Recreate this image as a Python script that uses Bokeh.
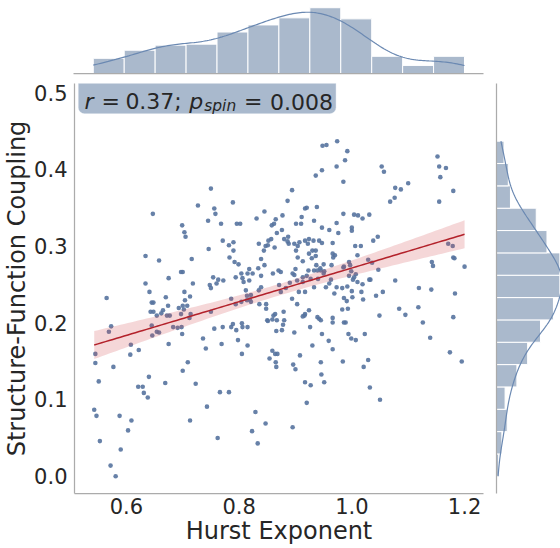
import numpy as np
from bokeh.plotting import figure
from bokeh.layouts import column, row
from bokeh.models import Range1d, FixedTicker, BoxAnnotation, Label, LinearAxis
from bokeh.embed import file_html
from bokeh.resources import INLINE

# ------------------------------------------------------------------ data
# scatter points (Hurst exponent, structure-function coupling)
hurst_a = [0.565, 0.545, 0.545, 0.551, 0.543, 0.547, 0.553, 0.572, 0.581, 0.569,
           0.573, 0.577, 0.588, 0.590, 0.603, 0.609, 0.608, 0.607, 0.622, 0.621,
           0.629, 0.631, 0.638, 0.640, 0.634, 0.634, 0.647, 0.641, 0.645, 0.648,
           0.643, 0.648, 0.645, 0.646, 0.654, 0.654, 0.658, 0.658, 0.665, 0.670,
           0.672, 0.675, 0.675, 0.669, 0.677, 0.683, 0.691, 0.693, 0.697, 0.700,
           0.699, 0.703, 0.705, 0.703, 0.704, 0.700, 0.697, 0.698, 0.699, 0.702,
           0.712, 0.714, 0.709, 0.700, 0.713, 0.716, 0.718, 0.723, 0.727, 0.736,
           0.741, 0.743, 0.746, 0.745, 0.748, 0.750, 0.750, 0.750, 0.754, 0.756,
           0.758, 0.756, 0.762, 0.766, 0.768, 0.771, 0.769, 0.771, 0.772, 0.760,
           0.763, 0.708, 0.713, 0.662, 0.674]
sfc_a = [0.232, 0.159, 0.147, 0.123, 0.086, 0.078, 0.045, 0.013, -0.001, 0.188,
         0.195, 0.142, 0.078, 0.034, 0.059, 0.072, 0.171, 0.158, 0.164, 0.116,
         0.116, 0.108, 0.102, 0.129, 0.251, 0.287, 0.342, 0.240, 0.226, 0.226,
         0.214, 0.214, 0.196, 0.183, 0.209, 0.188, 0.281, 0.187, 0.216, 0.233,
         0.209, 0.258, 0.172, 0.121, 0.209, 0.194, 0.193, 0.219, 0.266, 0.266,
         0.327, 0.318, 0.312, 0.240, 0.229, 0.222, 0.211, 0.194, 0.185, 0.217,
         0.206, 0.211, 0.148, 0.137, 0.072, 0.283, 0.251, 0.120, 0.353, 0.179,
         0.166, 0.090, 0.296, 0.333, 0.249, 0.245, 0.214, 0.375, 0.259, 0.349,
         0.342, 0.192, 0.049, 0.109, 0.329, 0.307, 0.172, 0.194, 0.255, 0.251,
         0.256, 0.222, 0.234, 0.212, 0.222]

hurst_b = [0.782, 0.782, 0.783, 0.786, 0.786, 0.789, 0.790, 0.790, 0.792, 0.794,
           0.794, 0.795, 0.796, 0.798, 0.799, 0.802, 0.804, 0.805, 0.804, 0.806,
           0.808, 0.806, 0.812, 0.814, 0.815, 0.815, 0.815, 0.818, 0.818, 0.819,
           0.821, 0.824, 0.823, 0.829, 0.831, 0.833, 0.835, 0.835, 0.836, 0.839,
           0.844, 0.845, 0.845, 0.847, 0.848, 0.848, 0.850, 0.851, 0.852, 0.854,
           0.857, 0.858, 0.860, 0.861, 0.859, 0.862, 0.864, 0.865, 0.865, 0.867,
           0.867, 0.868, 0.870, 0.871, 0.874, 0.876, 0.876, 0.877, 0.878, 0.879,
           0.880, 0.883, 0.886, 0.887, 0.888, 0.890, 0.894, 0.894, 0.895, 0.896,
           0.898, 0.898, 0.900, 0.900, 0.901, 0.901, 0.903, 0.903, 0.906, 0.907,
           0.908, 0.910, 0.911, 0.913, 0.913, 0.916, 0.917, 0.917, 0.917, 0.920,
           0.920, 0.920, 0.922, 0.923, 0.924, 0.924, 0.926, 0.927, 0.927, 0.930,
           0.930, 0.932, 0.933, 0.933, 0.933, 0.936, 0.936, 0.937, 0.938, 0.939,
           0.939, 0.940, 0.942, 0.942, 0.944]
sfc_b = [0.109, 0.301, 0.285, 0.231, 0.194, 0.357, 0.305, 0.294, 0.279, 0.259,
         0.224, 0.190, 0.329, 0.177, 0.276, 0.329, 0.227, 0.159, 0.264, 0.258,
         0.253, 0.194, 0.242, 0.229, 0.264, 0.194, 0.170, 0.270, 0.255, 0.230,
         0.227, 0.264, 0.058, 0.083, 0.336, 0.042, 0.303, 0.242, 0.224, 0.246,
         0.294, 0.345, 0.275, 0.068, 0.224, 0.218, 0.203, 0.301, 0.307, 0.153,
         0.309, 0.327, 0.264, 0.209, 0.163, 0.329, 0.159, 0.335, 0.148, 0.317,
         0.203, 0.159, 0.268, 0.249, 0.240, 0.321, 0.190, 0.340, 0.197, 0.214,
         0.309, 0.245, 0.359, 0.312, 0.303, 0.252, 0.373, 0.231, 0.063, 0.145,
         0.262, 0.303, 0.270, 0.139, 0.329, 0.294, 0.255, 0.224, 0.240, 0.305,
         0.157, 0.329, 0.338, 0.280, 0.259, 0.209, 0.349, 0.307, 0.122, 0.350,
         0.261, 0.095, 0.303, 0.268, 0.309, 0.216, 0.194, 0.257, 0.118, 0.294,
         0.170, 0.307, 0.333, 0.268, 0.246, 0.294, 0.392, 0.275, 0.351, 0.268,
         0.207, 0.257, 0.307, 0.205, 0.271]

hurst_c = [0.789, 0.805, 0.851, 0.859, 0.866, 0.864, 0.866, 0.847, 0.863, 0.839,
           0.834, 0.839, 0.821, 0.814, 0.874, 0.886, 0.904, 0.904, 0.895, 0.924,
           0.929, 0.936, 0.913, 0.917, 0.917, 0.913, 0.880, 0.898]
sfc_c = [0.198, 0.199, 0.202, 0.204, 0.189, 0.211, 0.142, 0.300, 0.298, 0.283,
         0.271, 0.261, 0.236, 0.235, 0.266, 0.306, 0.300, 0.285, 0.264, 0.290,
         0.284, 0.287, 0.253, 0.240, 0.211, 0.208, 0.203, 0.187]

hurst_d = [0.948, 0.955, 0.974, 0.992, 0.988, 0.973, 0.947, 0.985, 1.053, 1.057,
           1.100, 1.077, 1.087, 1.076, 1.068, 0.985, 1.004, 1.011, 1.019, 1.031,
           0.973, 0.947, 0.960, 0.976, 1.000, 1.000, 1.046, 1.038]
sfc_d = [0.431, 0.432, 0.437, 0.424, 0.412, 0.404, 0.399, 0.384, 0.404, 0.397,
         0.382, 0.376, 0.374, 0.363, 0.358, 0.342, 0.341, 0.340, 0.336, 0.341,
         0.330, 0.324, 0.321, 0.317, 0.324, 0.320, 0.312, 0.307]

hurst_e = [0.947, 0.966, 1.006, 1.016, 1.010, 0.966, 0.970, 0.967, 0.950, 0.964,
           0.945, 0.951, 0.950, 0.995, 0.997, 0.986, 0.985, 1.029, 1.036, 0.999,
           0.995, 1.007, 1.004, 1.047, 0.963, 1.002, 1.010, 1.019, 1.031, 1.033,
           0.992, 0.983, 0.973, 0.960, 0.954, 1.000, 1.017, 0.969, 1.055, 1.043,
           1.077, 0.986, 1.001, 1.020, 0.991, 0.993, 0.983, 1.049, 0.966, 0.966,
           0.986, 0.989, 1.119, 1.118, 1.095, 1.084, 0.945, 0.947, 0.994, 1.023,
           0.999, 1.007, 0.959, 0.966]
sfc_e = [0.304, 0.304, 0.300, 0.300, 0.288, 0.290, 0.288, 0.285, 0.276, 0.275,
         0.268, 0.267, 0.264, 0.279, 0.275, 0.273, 0.272, 0.282, 0.278, 0.267,
         0.261, 0.263, 0.259, 0.269, 0.256, 0.256, 0.253, 0.250, 0.256, 0.256,
         0.247, 0.245, 0.246, 0.251, 0.246, 0.241, 0.240, 0.238, 0.240, 0.235,
         0.255, 0.232, 0.233, 0.230, 0.228, 0.218, 0.217, 0.209, 0.206, 0.200,
         0.200, 0.200, 0.245, 0.220, 0.210, 0.218, 0.203, 0.185, 0.185, 0.185,
         0.179, 0.177, 0.176, 0.165]

hurst_f = [0.945, 0.946, 0.951, 0.984, 1.029, 1.021, 1.032, 1.050, 1.152, 1.155,
           1.167, 1.157, 1.180, 1.155, 1.142, 1.144, 1.141, 1.171, 1.179, 1.180,
           1.182, 1.200, 1.183, 1.180, 1.126, 1.139, 1.174, 1.195]
sfc_f = [0.148, 0.132, 0.122, 0.149, 0.151, 0.142, 0.115, 0.099, 0.417, 0.404,
         0.402, 0.390, 0.372, 0.358, 0.279, 0.274, 0.243, 0.303, 0.300, 0.285,
         0.284, 0.273, 0.238, 0.207, 0.200, 0.180, 0.161, 0.149]

# marginal histogram counts
top_counts = [15, 23, 28, 29, 41, 48, 55, 65, 54, 17, 8, 17]          # along Hurst exponent
right_counts = [2, 5, 10, 8, 19, 29, 41, 53, 59, 59, 47, 37, 13, 11, 7]  # along coupling (low -> high)

x_ticks = [0.6, 0.8, 1.0, 1.2]
x_tick_labels = ["0.6", "0.8", "1.0", "1.2"]
y_ticks = [0.0, 0.1, 0.2, 0.3, 0.4, 0.5]
y_tick_labels = ["0.0", "0.1", "0.2", "0.3", "0.4", "0.5"]
x_label = "Hurst Exponent"
y_label = "Structure-Function Coupling"
r_value = "0.37;"
p_value = "0.008"

# ------------------------------------------------------------------ style
FONT = "DejaVu Sans"
TXT = "#262626"
SPINE = "#ababab"
DOT = "#56739f"
BAR = "#aab9cc"
KDE = "#6b89b2"
REG = "#b3222b"
BAND = "#d0474d"
BOX = "#a9b9cd"

hurst = np.array(hurst_a + hurst_b + hurst_c + hurst_d + hurst_e + hurst_f)
sfc = np.array(sfc_a + sfc_b + sfc_c + sfc_d + sfc_e + sfc_f)

X_START, X_END = 0.508, 1.2336
Y_START, Y_END = -0.0235, 0.5124
FL, FR, FT, FB = 73, 483, 83, 493  # frame in pixels


def px_x(px):
    return X_START + (px - FL) / (FR - FL) * (X_END - X_START)


def px_y(py):
    return Y_END - (py - FT) / (FB - FT) * (Y_END - Y_START)


def kde(data, grid):
    n = len(data)
    h = np.std(data, ddof=1) * n ** (-0.2)
    z = (grid[:, None] - data[None, :]) / h
    return np.exp(-0.5 * z ** 2).sum(axis=1) / (n * h * np.sqrt(2 * np.pi))


x_range = Range1d(X_START, X_END)
y_range = Range1d(Y_START, Y_END)

# ------------------------------------------------------------------ main
main = figure(width=495, height=473, x_range=x_range, y_range=y_range,
              output_backend="svg", toolbar_location=None,
              x_axis_location=None, y_axis_location=None,
              min_border_left=FL, min_border_right=12,
              min_border_top=8, min_border_bottom=55)
main.outline_line_color = None
main.background_fill_color = "white"
main.border_fill_color = "white"
main.xgrid.visible = False
main.ygrid.visible = False

xa = LinearAxis(ticker=FixedTicker(ticks=x_ticks),
                major_label_overrides=dict(zip(x_ticks, x_tick_labels)),
                axis_label=x_label)
ya = LinearAxis(ticker=FixedTicker(ticks=y_ticks),
                major_label_overrides=dict(zip(y_ticks, y_tick_labels)),
                axis_label=y_label)
for ax in (xa, ya):
    ax.axis_line_color = SPINE
    ax.axis_line_width = 1.25
    ax.major_tick_line_color = None
    ax.minor_tick_line_color = None
    ax.major_tick_out = 0
    ax.major_tick_in = 0
    ax.major_label_text_font = FONT
    ax.major_label_text_font_size = "21px"
    ax.major_label_text_color = TXT
    ax.axis_label_text_font = FONT
    ax.axis_label_text_font_size = "24px"
    ax.axis_label_text_font_style = "normal"
    ax.axis_label_text_color = TXT
    ax.axis_label_standoff = 0
xa.major_label_standoff = 4
ya.major_label_standoff = 7
main.add_layout(xa, "below")
main.add_layout(ya, "left")

main.scatter(hurst, sfc, size=4.6, fill_color=DOT, line_color=None, fill_alpha=0.9)

# regression with 95% confidence band
slope, intercept = np.polyfit(hurst, sfc, 1)
xs = np.linspace(hurst.min(), hurst.max(), 100)
ys = intercept + slope * xs
n = len(hurst)
resid = sfc - (intercept + slope * hurst)
s_err = np.sqrt(np.sum(resid ** 2) / (n - 2))
sxx = np.sum((hurst - hurst.mean()) ** 2)
se = s_err * np.sqrt(1.0 / n + (xs - hurst.mean()) ** 2 / sxx)
main.varea(x=xs, y1=ys - 1.97 * se, y2=ys + 1.97 * se, fill_color=BAND, fill_alpha=0.22)
main.line(xs, ys, line_color=REG, line_width=1.5)

# annotation box
main.add_layout(BoxAnnotation(left=px_x(77), right=px_x(335), top=px_y(77), bottom=px_y(113),
                              fill_color=BOX, fill_alpha=1.0, line_color="#c5d0dd",
                              line_width=1, border_radius=6))
base = px_y(101)
pieces = [("r", 83, "italic", "22px", base),
          ("=", 100, "normal", "22px", base),
          (r_value, 124, "normal", "22px", base),
          ("p", 188, "italic", "22px", base),
          ("spin", 203, "italic", "15.5px", px_y(105)),
          ("=", 243, "normal", "22px", base),
          (p_value, 269, "normal", "22px", base)]
for txt, px, style, size, yy in pieces:
    main.add_layout(Label(x=px_x(px), y=yy, text=txt, text_font=FONT,
                          text_font_style=style, text_font_size=size,
                          text_color=TXT, text_baseline="alphabetic",
                          text_align="left"))

# ------------------------------------------------------------------ top marginal
top_edges = np.linspace(hurst.min(), hurst.max(), len(top_counts) + 1)
top = figure(width=495, height=75, x_range=x_range,
             y_range=Range1d(0, max(top_counts) * 1.11),
             output_backend="svg", toolbar_location=None,
             x_axis_location=None, y_axis_location=None,
             min_border_left=FL, min_border_right=12,
             min_border_top=0, min_border_bottom=2)
top.outline_line_color = None
top.xgrid.visible = False
top.ygrid.visible = False
tax = LinearAxis(ticker=FixedTicker(ticks=[]), major_label_text_font_size="0px",
                 major_label_standoff=0, major_tick_out=0, major_tick_in=0,
                 axis_line_color=SPINE, axis_line_width=1.25)
top.add_layout(tax, "below")
top.quad(left=top_edges[:-1], right=top_edges[1:], bottom=0, top=top_counts,
         fill_color=BAR, line_color="white", line_width=1)
gx = np.linspace(hurst.min(), hurst.max(), 200)
top.line(gx, kde(hurst, gx) * sum(top_counts) * (top_edges[1] - top_edges[0]),
         line_color=KDE, line_width=1.2)

# ------------------------------------------------------------------ right marginal
right_edges = np.linspace(sfc.min(), sfc.max(), len(right_counts) + 1)
right = figure(width=65, height=473, y_range=y_range,
               x_range=Range1d(0, max(right_counts) * 1.01),
               output_backend="svg", toolbar_location=None,
               x_axis_location=None, y_axis_location=None,
               min_border_left=1, min_border_right=0,
               min_border_top=8, min_border_bottom=55)
right.outline_line_color = None
right.xgrid.visible = False
right.ygrid.visible = False
rax = LinearAxis(ticker=FixedTicker(ticks=[]), major_label_text_font_size="0px",
                 major_label_standoff=0, major_tick_out=0, major_tick_in=0,
                 axis_line_color=SPINE, axis_line_width=1.25)
right.add_layout(rax, "left")
right.quad(left=0, right=right_counts, bottom=right_edges[:-1], top=right_edges[1:],
           fill_color=BAR, line_color="white", line_width=1)
gy = np.linspace(sfc.min(), sfc.max(), 200)
right.line(kde(sfc, gy) * sum(right_counts) * (right_edges[1] - right_edges[0]), gy,
           line_color=KDE, line_width=1.2)

layout = column(top, row(main, right, spacing=0), spacing=0)
open("out.html", "w").write(file_html(layout, INLINE))
